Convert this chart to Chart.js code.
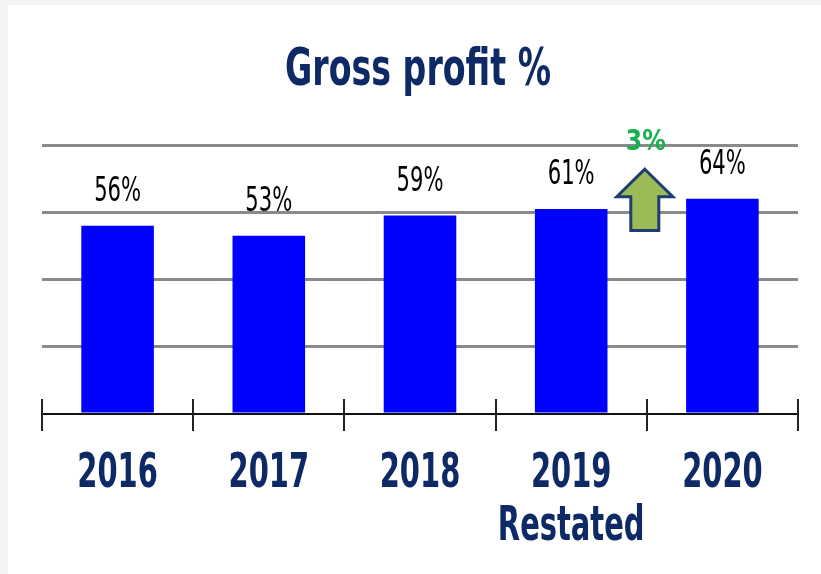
<!DOCTYPE html>
<html>
<head>
<meta charset="utf-8">
<script src="https://cdn.jsdelivr.net/npm/chart.js@4/dist/chart.umd.min.js"></script>
<style>
  html, body { margin: 0; padding: 0; background: #f3f3f3; }
  #wrap { position: relative; width: 821px; height: 574px; }
  #panel { position: absolute; left: 8px; top: 5px; right: 0; bottom: 0; background: #fff; }
  #chart { position: absolute; left: 0; top: 0; }
</style>
</head>
<body>
<div id="wrap">
  <div id="panel"></div>
  <canvas id="chart" width="821" height="574"></canvas>
</div>
<script>
const categories = ['2016', '2017', '2018', '2019', '2020'];
const categoryNotes = ['', '', '', 'Restated', ''];
const grossProfitPct = [56, 53, 59, 61, 64];
const yTicks = [0, 20, 40, 60, 80];
const changeLabel = '3%';
const chartTitle = 'Gross profit %';

const NAVY = '#0E2A66';
const FONT = '"DejaVu Sans Condensed", "DejaVu Sans", sans-serif';

// the source uses a tall, narrow face, so text is squeezed sideways
function narrowText(ctx, str, x, y, font, sx) {
  ctx.save();
  ctx.font = font;
  ctx.translate(x, y);
  ctx.scale(sx, 1);
  ctx.fillText(str, 0, 0);
  ctx.restore();
}

const extras = {
  id: 'extras',
  afterDraw(chart) {
    const ctx = chart.ctx;
    const x = chart.scales.x;
    const y = chart.scales.y;
    const base = y.getPixelForValue(0);

    ctx.save();
    ctx.textAlign = 'center';
    ctx.textBaseline = 'alphabetic';

    // title
    ctx.fillStyle = NAVY;
    narrowText(ctx, chartTitle, (chart.chartArea.left + chart.chartArea.right) / 2 - 2, 85,
      'bold 52px ' + FONT, 0.71);

    // category labels
    categories.forEach((c, i) => {
      const px = x.getPixelForValue(i);
      narrowText(ctx, c, px, 487, 'bold 48px ' + FONT, 0.67);
      if (categoryNotes[i]) narrowText(ctx, categoryNotes[i], px, 540, 'bold 48px ' + FONT, 0.67);
    });

    // tick marks crossing the axis at category boundaries
    ctx.strokeStyle = '#222';
    ctx.lineWidth = 2;
    const step = (x.right - x.left) / categories.length;
    for (let i = 0; i <= categories.length; i++) {
      const px = Math.round(x.left + i * step);
      ctx.beginPath();
      ctx.moveTo(px, base - 15);
      ctx.lineTo(px, base + 17);
      ctx.stroke();
    }

    // percentage labels above bars
    ctx.fillStyle = '#000';
    chart.getDatasetMeta(0).data.forEach((bar, i) => {
      narrowText(ctx, grossProfitPct[i] + '%', bar.x, bar.y - 25, '34px ' + FONT, 0.69);
    });

    // change arrow between 2019 and 2020
    const cx = (x.getPixelForValue(3) + x.getPixelForValue(4)) / 2 - 2;
    const tip = y.getPixelForValue(72.8);
    const neck = y.getPixelForValue(64.6);
    const foot = y.getPixelForValue(54.6);
    ctx.beginPath();
    ctx.moveTo(cx, tip);
    ctx.lineTo(cx + 28, neck);
    ctx.lineTo(cx + 14, neck);
    ctx.lineTo(cx + 14, foot);
    ctx.lineTo(cx - 14, foot);
    ctx.lineTo(cx - 14, neck);
    ctx.lineTo(cx - 28, neck);
    ctx.closePath();
    ctx.fillStyle = '#9BBB59';
    ctx.fill();
    ctx.strokeStyle = '#1F3D6E';
    ctx.lineWidth = 3;
    ctx.lineJoin = 'miter';
    ctx.stroke();

    ctx.fillStyle = '#16B04F';
    narrowText(ctx, changeLabel, cx + 1, 150, 'bold 29px ' + FONT, 0.9);
    ctx.restore();
  }
};

new Chart(document.getElementById('chart'), {
  type: 'bar',
  data: {
    labels: categories,
    datasets: [{
      data: grossProfitPct,
      backgroundColor: '#0000FF',
      borderWidth: 0,
      categoryPercentage: 1,
      barPercentage: 0.48
    }]
  },
  options: {
    responsive: false,
    animation: false,
    layout: { padding: { left: 42, right: 23, top: 145, bottom: 152 } },
    plugins: {
      legend: { display: false },
      tooltip: { enabled: false },
      title: { display: false, text: chartTitle }
    },
    scales: {
      x: {
        grid: { display: false },
        border: { display: true, color: '#111', width: 2 },
        ticks: { display: false }
      },
      y: {
        min: yTicks[0],
        max: yTicks[yTicks.length - 1],
        afterBuildTicks(scale) { scale.ticks = yTicks.map(v => ({ value: v })); },
        grid: {
          color: ctx => ctx.tick && ctx.tick.value === 0 ? 'rgba(0,0,0,0)' : '#8A8A8A',
          lineWidth: 3,
          drawTicks: false
        },
        border: { display: false },
        ticks: { display: false }
      }
    }
  },
  plugins: [extras]
});
</script>
</body>
</html>
